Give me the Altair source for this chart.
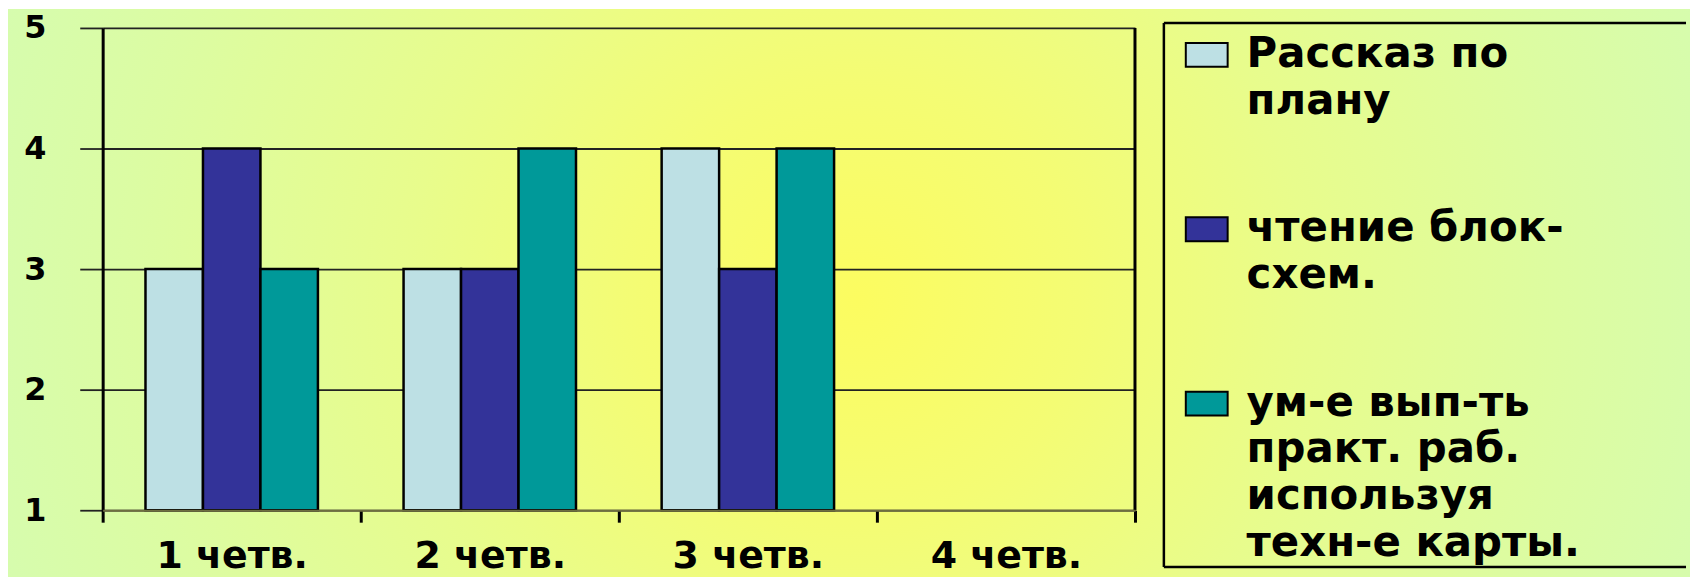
import altair as alt
import pandas as pd

# ---- data ----
quarters = ["1 четв.", "2 четв.", "3 четв.", "4 четв."]
series = [
    "Рассказ по плану",
    "чтение блок-схем.",
    "ум-е вып-ть практ. раб. используя техн-е карты.",
]
legend_lines = [
    ["Рассказ по", "плану"],
    ["чтение блок-", "схем."],
    ["ум-е вып-ть", "практ. раб.", "используя", "техн-е карты."],
]
colors = ["#bde0e4", "#333399", "#009999"]
values_rasskaz = [3, 3, 4]
values_chtenie = [4, 3, 3]
values_umenie = [3, 4, 4]
y_ticks = [1, 2, 3, 4, 5]

rows = []
for s, vals in zip(series, [values_rasskaz, values_chtenie, values_umenie]):
    for q, v in zip(quarters, vals):
        rows.append({"quarter": q, "series": s, "value": v})
df = pd.DataFrame(rows)

FONT = "DejaVu Sans"
fill_scale = alt.Scale(domain=series, range=colors)
y_scale = alt.Scale(domain=[1, 5], nice=False, zero=False)

# ---- background (drawn first, behind everything) ----
bg_fill = {
    "gradient": "radial",
    "x1": 0.505, "y1": 0.504, "r1": 0,
    "x2": 0.505, "y2": 0.504, "r2": 0.535,
    "stops": [
        {"offset": 0, "color": "#fcfc60"},
        {"offset": 0.25, "color": "#f4fc74"},
        {"offset": 0.5, "color": "#e8fc8c"},
        {"offset": 0.8, "color": "#dcfca2"},
        {"offset": 1, "color": "#d6fcae"},
    ],
}
bg = alt.Chart(pd.DataFrame({"a": [0]})).mark_rect(fill=bg_fill, strokeWidth=0).encode(
    x=alt.value(-95), x2=alt.value(1593), y=alt.value(-18), y2=alt.value(552)
).properties(width=1036, height=1)

# ---- plot ----
bars = alt.Chart(df).mark_bar(stroke="black", strokeWidth=2.5).encode(
    x=alt.X(
        "quarter:N",
        sort=quarters,
        scale=alt.Scale(domain=quarters, paddingInner=0, paddingOuter=0),
        axis=alt.Axis(
            title=None, labelAngle=0, tickBand="extent", ticks=True, tickSize=12,
            tickWidth=3, tickColor="black", domainColor="#6e6e40", domainWidth=2,
            labelFont=FONT, labelFontSize=38, labelFontWeight="bold", labelColor="black",
            labelBaseline="alphabetic", labelPadding=45, grid=False, zindex=1,
        ),
    ),
    xOffset=alt.XOffset(
        "series:N", sort=series,
        scale=alt.Scale(domain=series, paddingInner=0, paddingOuter=0.745),
    ),
    y=alt.Y(
        "value:Q",
        scale=y_scale,
        axis=alt.Axis(
            title=None, values=y_ticks, format="d", grid=True, gridColor="#222222",
            gridWidth=1.8, domainColor="black", domainWidth=3, tickSize=23,
            tickColor="#222222", tickWidth=1.8, labelFont=FONT, labelFontSize=32,
            labelFontWeight="bold", labelColor="black", labelPadding=34,
        ),
    ),
    y2=alt.datum(1),
    fill=alt.Fill("series:N", scale=fill_scale, legend=None),
)

edge = alt.Chart(pd.DataFrame({"quarter": [quarters[-1]]})).mark_rule(
    color="black", strokeWidth=3
).encode(
    x=alt.X("quarter:N", bandPosition=1, title=None),
    y=alt.datum(5),
    y2=alt.datum(1),
)

plot = alt.layer(bars, edge).properties(width=1036, height=484)

# ---- legend panel ----
leg_df = pd.DataFrame({"series": series, "label": ["\n".join(l) for l in legend_lines]})
leg_y = alt.Y(
    "series:N",
    scale=alt.Scale(type="point", domain=series, range=[39, 389], padding=0),
    axis=None,
)
leg_sym = alt.Chart(leg_df).mark_point(
    shape="M-1,-0.57H1V0.57H-1Z", size=1764, filled=True, opacity=1,
    stroke="black", strokeWidth=2, yOffset=-12,
).encode(
    x=alt.value(43), y=leg_y, fill=alt.Fill("series:N", scale=fill_scale, legend=None)
)
leg_txt = alt.Chart(leg_df).mark_text(
    align="left", baseline="alphabetic", lineBreak="\n", lineHeight=47,
    font=FONT, fontSize=42, fontWeight="bold", color="black",
).encode(x=alt.value(83), y=leg_y, text="label:N")

one = pd.DataFrame({"a": [0]})
box_left = alt.Chart(one).mark_rule(color="black", strokeWidth=2.5).encode(
    x=alt.value(0), y=alt.value(-5), y2=alt.value(541)
)
box_top = alt.Chart(one).mark_rule(color="black", strokeWidth=2.5).encode(
    x=alt.value(0), x2=alt.value(524), y=alt.value(-5)
)
box_bottom = alt.Chart(one).mark_rule(color="black", strokeWidth=2.5).encode(
    x=alt.value(0), x2=alt.value(524), y=alt.value(541)
)
legend = alt.layer(box_left, box_top, box_bottom, leg_sym, leg_txt).properties(
    width=450, height=484
)

body = alt.hconcat(plot, legend, spacing=29, bounds="flush")
chart = alt.vconcat(bg, body, spacing=0, bounds="flush").properties(
    padding=0
).configure_view(stroke=None, strokeWidth=0)

chart.save("out.html", embed_options={"renderer": "svg", "actions": False})
